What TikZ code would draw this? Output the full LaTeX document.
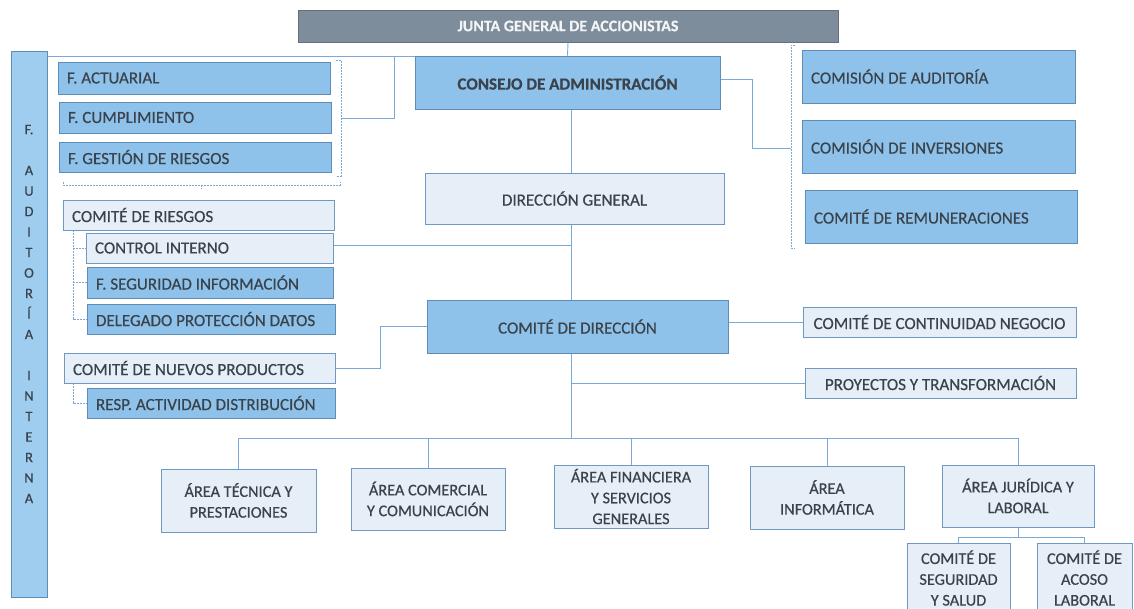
\documentclass[tikz,border=0pt]{standalone}
\usepackage{fontspec}
\setmainfont{Carlito}[FakeBold=0.5]
\usetikzlibrary{backgrounds}
\definecolor{midblue}{HTML}{8FC2EA}
\definecolor{boxedge}{HTML}{5E8DB8}
\definecolor{litefill}{HTML}{E6EFF8}
\definecolor{liteedge}{HTML}{7099C2}
\definecolor{lineblue}{HTML}{7BAAD8}
\definecolor{juntafill}{HTML}{7E8D9C}
\definecolor{juntaedge}{HTML}{63717F}
\definecolor{juntatext}{HTML}{F2F4F6}
\definecolor{barfill}{HTML}{9ECDF0}
\definecolor{txt}{HTML}{3A434B}
\begin{document}
\begin{tikzpicture}[x=1pt,y=-1pt,
  base/.style={draw=boxedge, line width=0.9pt, inner sep=0pt, text=txt,
    font=\fontsize{17}{21}\selectfont, align=center},
  sz/.style 2 args={minimum width=#1pt, minimum height=#2pt},
  lt/.style={text width=#1pt, inner xsep=9pt, align=flush left},
  mid/.style={base, fill=midblue},
  lite/.style={base, fill=litefill, draw=liteedge},
  low/.style={lite, font=\fontsize{16.3}{20.8}\selectfont},
  juntast/.style={base, fill=juntafill, draw=juntaedge, text=juntatext,
    font=\bfseries\fontsize{16}{18}\selectfont},
  barst/.style={base, fill=barfill},
  bartxt/.style={inner sep=0pt, text=txt, align=center,
    font=\fontsize{14.5}{20.5}\selectfont},
  conn/.style={draw=lineblue, line width=0.9pt},
  dots/.style={draw=lineblue, line width=0.8pt, dash pattern=on 2pt off 1pt}]

\useasboundingbox (0,0) rectangle (1134,609);

% top
\node[juntast, sz={540}{32}] (junta) at (568,26) {JUNTA GENERAL DE ACCIONISTAS};

% vertical bar
\node[barst, sz={36}{546}] (audit) at (29,324) {};
\node[bartxt] (audittxt) at (29,314) {F.\\[20.5pt]A\\U\\D\\I\\T\\O\\R\\Í\\A\\[20.5pt]I\\N\\T\\E\\R\\N\\A};

% left group
\node[mid, sz={272}{32}, lt=254] (fact) at (194,78) {F. ACTUARIAL};
\node[mid, sz={272}{31}, lt=254] (fcum) at (195,117.5) {F. CUMPLIMIENTO};
\node[mid, sz={272}{30}, lt=254] (fges) at (195,157) {F. GESTIÓN DE RIESGOS};
\node[lite, sz={271}{30}, lt=253] (criesg) at (198.5,215) {COMITÉ DE RIESGOS};
\node[lite, sz={247}{30}, lt=229] (ctrl) at (209.5,248) {CONTROL INTERNO};
\node[mid, sz={246}{31}, lt=228] (fseg) at (210,282.5) {F. SEGURIDAD INFORMACIÓN};
\node[mid, sz={248}{30}, lt=230] (deleg) at (211,319) {DELEGADO PROTECCIÓN DATOS};
\node[lite, sz={271}{30}, lt=253] (cnp) at (199.5,368) {COMITÉ DE NUEVOS PRODUCTOS};
\node[mid, sz={248}{30}, lt=230] (resp) at (211,403) {RESP. ACTIVIDAD DISTRIBUCIÓN};

% centre column
\node[mid, sz={305}{53}, font=\bfseries\fontsize{17}{21}\selectfont] (consejo) at (567.5,82.5) {CONSEJO DE ADMINISTRACIÓN};
\node[lite, sz={299}{51}] (dg) at (574.5,198.5) {DIRECCIÓN GENERAL};
\node[mid, sz={301}{53}] (cdir) at (577.5,326.5) {COMITÉ DE DIRECCIÓN};

% right group
\node[mid, sz={273}{53}, lt=255] (caud) at (938.5,76.5) {COMISIÓN DE AUDITORÍA};
\node[mid, sz={273}{53}, lt=255] (cinv) at (938.5,146.5) {COMISIÓN DE INVERSIONES};
\node[mid, sz={272}{53}, lt=254] (crem) at (941,216.5) {COMITÉ DE REMUNERACIONES};
\node[lite, sz={273}{30}] (ccont) at (939.5,322) {COMITÉ DE CONTINUIDAD NEGOCIO};
\node[lite, sz={271}{30}] (proy) at (940.5,383) {PROYECTOS Y TRANSFORMACIÓN};

% bottom areas
\node[low, sz={155}{63}] (atec) at (238.5,500.5) {ÁREA TÉCNICA Y\\PRESTACIONES};
\node[low, sz={154}{62}] (acom) at (428,499) {ÁREA COMERCIAL\\Y COMUNICACIÓN};
\node[low, sz={154}{63}] (afin) at (631,496.5) {ÁREA FINANCIERA\\Y SERVICIOS\\GENERALES};
\node[low, sz={154}{63}] (ainf) at (827,497.5) {ÁREA\\INFORMÁTICA};
\node[low, sz={152}{62}] (ajur) at (1018,496) {ÁREA JURÍDICA Y\\LABORAL};
\node[low, sz={103}{70}] (cseg) at (958.5,578) {COMITÉ DE\\SEGURIDAD\\Y SALUD};
\node[low, sz={95}{70}] (caco) at (1084.5,578) {COMITÉ DE\\ACOSO\\LABORAL};

\begin{scope}[on background layer]
  \coordinate (sp) at (571,0);
  \coordinate (jl) at ([yshift=-1pt]consejo.north west);
  \coordinate (fbx) at (394,57);
  \coordinate (bkj) at (341,118);
  \coordinate (rbk) at (752,148);
  \coordinate (rbj) at (791,148);
  \coordinate (ce) at ([yshift=3.5pt]consejo.east);
  \coordinate (ci) at ([yshift=3pt]ctrl.east);
  \coordinate (npk) at (380,0);
  \coordinate (bus) at (0,438);
  \coordinate (sb) at (0,537);
  \coordinate (tx) at (73,0);

  % junta to consejo and left branch
  \draw[conn] (junta.south) -- (consejo.north);
  \draw[conn] (jl) -- (jl -| audit.east);
  \draw[conn] (fbx) |- (bkj);
  % bracket around F. group
  \draw[dots] (336,60) -- (341,60) -- (341,176) -- (336,176);
  \draw[dots] (63,182) -- (63,185) -- (340,185) -- (340,182);
  \draw[dots] (201,185) -- (201,189);
  % right bracket and connector
  \draw[dots] (795,45) -- (791,45) -- (791,248) -- (795,248);
  \draw[conn] (ce) -| (rbk) -- (rbj);
  % spine
  \draw[conn] (consejo.south -| sp) -- (cdir.north -| sp);
  \draw[conn] (ci) -- (ci -| sp);
  \draw[conn] (cnp.east) -| (npk |- cdir.west) -- (cdir.west);
  \draw[conn] (cdir.east |- ccont.west) -- (ccont.west);
  \draw[conn] (cdir.south -| sp) -- (sp |- bus);
  \draw[conn] (proy.west -| sp) -- (proy.west);
  % bus to areas
  \draw[conn] (atec.north |- bus) -- (ajur.north |- bus);
  \foreach \n in {atec,acom,afin,ainf,ajur}
    \draw[conn] (\n.north |- bus) -- (\n.north);
  % juridica sub-committees
  \draw[conn] (ajur.south) -- (ajur.south |- sb);
  \draw[conn] (cseg.north |- sb) -- (caco.north |- sb);
  \draw[conn] (cseg.north |- sb) -- (cseg.north);
  \draw[conn] (caco.north |- sb) -- (caco.north);
  % left trees
  \draw[dots] (criesg.south -| tx) |- (deleg.west);
  \draw[dots] (ctrl.west -| tx) -- (ctrl.west);
  \draw[dots] (fseg.west -| tx) -- (fseg.west);
  \draw[dots] (cnp.south -| tx) |- (resp.west);
\end{scope}
\end{tikzpicture}
\end{document}
